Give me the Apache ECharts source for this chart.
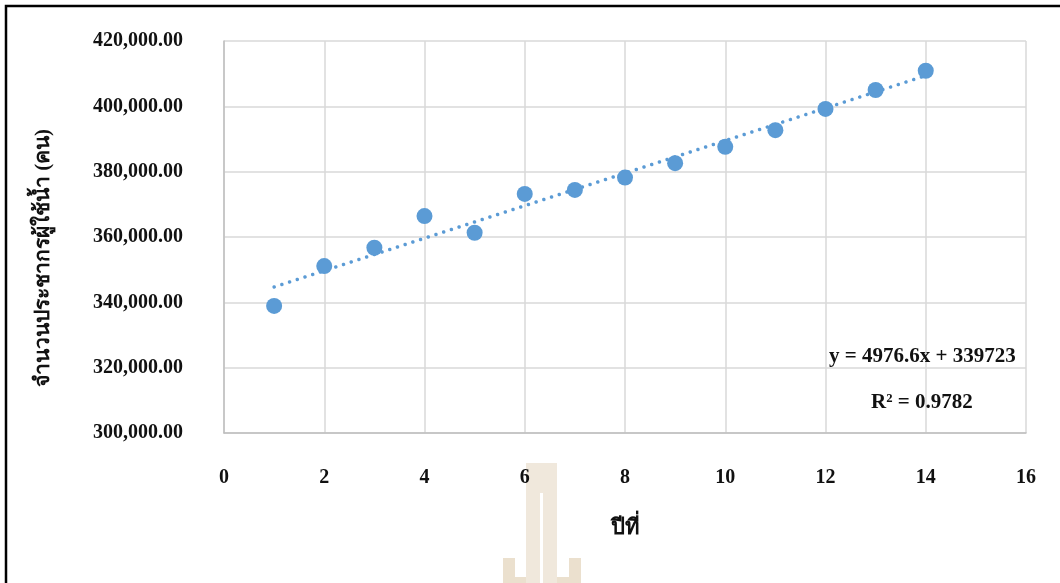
<!DOCTYPE html>
<html>
<head>
<meta charset="utf-8">
<script src="https://cdn.jsdelivr.net/npm/echarts@6/dist/echarts.min.js"></script>
<style>
  html, body { margin: 0; padding: 0; background: #fff; }
  #main { width: 1060px; height: 583px; }
</style>
</head>
<body>
<div id="main"></div>
<script>
// ปีที่ (year index) and population of water users
var years = [1, 2, 3, 4, 5, 6, 7, 8, 9, 10, 11, 12, 13, 14];
var users = [338900, 351100, 356700, 366400, 361300, 373200, 374400,
             378200, 382600, 387600, 392700, 399200, 405000, 410900];
// linear trendline endpoints (y = 4976.6x + 339723)
var trendX = [1, 14];
var trendY = [344700, 409400];
var eqText = "y = 4976.6x + 339723";
var r2Text = "R² = 0.9782";
var yTitle = "จำนวนประชากรผู้ใช้น้ำ (คน)";

var serif = "'Liberation Serif', 'Times New Roman', serif";

var chart = echarts.init(document.getElementById("main"));

var points = years.map(function (x, i) { return [x, users[i]]; });
var trend = trendX.map(function (x, i) { return [x, trendY[i]]; });

var option = {
  backgroundColor: "#fff",
  animation: false,
  grid: { left: 224, right: 34, top: 41, bottom: 150 },
  xAxis: {
    type: "value",
    min: 0,
    max: 16,
    interval: 2,
    name: "ปีที่",
    nameLocation: "middle",
    nameGap: 84,
    nameTextStyle: { fontFamily: serif, fontWeight: "bold", fontSize: 22, color: "#111" },
    axisLine: { show: true, lineStyle: { color: "#bfbfbf", width: 1.5 } },
    axisTick: { show: false },
    axisLabel: {
      margin: 35,
      fontFamily: serif,
      fontWeight: "bold",
      fontSize: 20,
      color: "#111"
    },
    splitLine: { show: true, lineStyle: { color: "#d9d9d9", width: 1.5 } }
  },
  yAxis: {
    type: "value",
    min: 300000,
    max: 420000,
    interval: 20000,
    axisLine: { show: true, lineStyle: { color: "#bfbfbf", width: 1.5 } },
    axisTick: { show: false },
    axisLabel: {
      margin: 41,
      fontFamily: serif,
      fontWeight: "bold",
      fontSize: 20,
      color: "#111",
      formatter: function (v) {
        return v.toLocaleString("en-US", { minimumFractionDigits: 2, maximumFractionDigits: 2 });
      }
    },
    splitLine: { show: true, lineStyle: { color: "#d9d9d9", width: 1.5 } }
  },
  graphic: [
    // border of the chart box (left and top)
    {
      type: "polyline",
      shape: { points: [[6, 583], [6, 6], [1060, 6]] },
      style: { stroke: "#000", lineWidth: 2.5, fill: null },
      z: 100
    },
    // faded logo watermark at the bottom
    {
      type: "group",
      z: -1,
      children: [
        { type: "rect", shape: { x: 526, y: 463, width: 14, height: 120 }, style: { fill: "#f0e8dc" } },
        { type: "rect", shape: { x: 543, y: 463, width: 14, height: 120 }, style: { fill: "#f0e8dc" } },
        { type: "rect", shape: { x: 540, y: 463, width: 3, height: 30 }, style: { fill: "#f0e8dc" } },
        { type: "rect", shape: { x: 503, y: 558, width: 12, height: 25 }, style: { fill: "#ebe0ce" } },
        { type: "rect", shape: { x: 503, y: 577, width: 23, height: 6 }, style: { fill: "#ebe0ce" } },
        { type: "rect", shape: { x: 569, y: 558, width: 12, height: 25 }, style: { fill: "#ebe0ce" } },
        { type: "rect", shape: { x: 557, y: 577, width: 24, height: 6 }, style: { fill: "#ebe0ce" } }
      ]
    },
    {
      type: "text",
      x: 44,
      y: 258,
      rotation: Math.PI / 2,
      style: {
        text: yTitle, fontFamily: serif, fontWeight: "bold", fontSize: 21, fill: "#111",
        align: "center", verticalAlign: "middle"
      },
      z: 50
    },
    {
      type: "text",
      left: 829,
      top: 346,
      style: { text: eqText, fontFamily: serif, fontWeight: "bold", fontSize: 21, fill: "#111" },
      z: 50
    },
    {
      type: "text",
      left: 871,
      top: 392,
      style: { text: r2Text, fontFamily: serif, fontWeight: "bold", fontSize: 21, fill: "#111" },
      z: 50
    }
  ],
  series: [
    {
      type: "line",
      data: trend,
      symbol: "none",
      z: 3,
      lineStyle: { color: "#5b9bd5", width: 3.5, type: [0.1, 8], cap: "round" }
    },
    {
      type: "scatter",
      data: points,
      symbolSize: 16,
      z: 4,
      itemStyle: { color: "#5b9bd5", opacity: 1 }
    }
  ]
};

chart.setOption(option);
</script>
</body>
</html>
